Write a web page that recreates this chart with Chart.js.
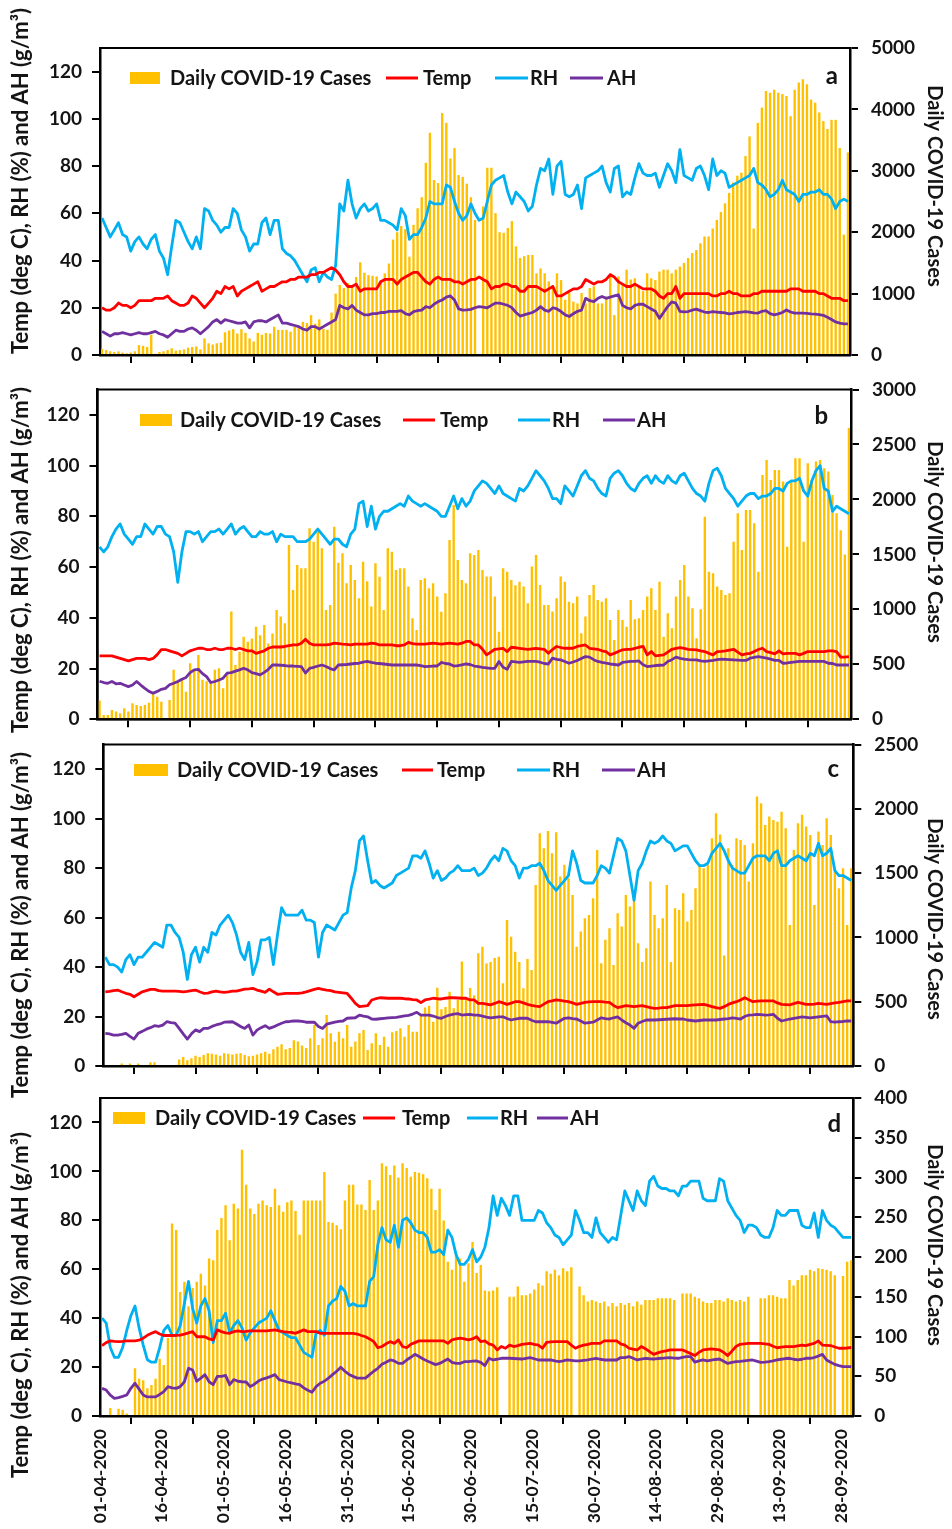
<!DOCTYPE html>
<html><head><meta charset="utf-8">
<script src="https://cdn.jsdelivr.net/npm/chart.js"></script>
<style>
html,body{margin:0;padding:0;background:#fff;}
body{width:952px;height:1529px;position:relative;overflow:hidden;}
canvas{position:absolute;left:0;top:0;}
</style></head><body>
<canvas id="ca" width="952" height="1529"></canvas>
<canvas id="cb" width="952" height="1529"></canvas>
<canvas id="cc" width="952" height="1529"></canvas>
<canvas id="cd" width="952" height="1529"></canvas>
<script>
// ---------- tick labels (x axis, one every 15 days from 01-04-2020) ----------
const dateTicks = ['01-04-2020','16-04-2020','01-05-2020','16-05-2020','31-05-2020','15-06-2020','30-06-2020','15-07-2020','30-07-2020','14-08-2020','29-08-2020','13-09-2020','28-09-2020'];
const tickDays = [0,15,30,45,60,75,90,105,120,135,150,165,180];
const seriesLabels = ['Daily COVID-19 Cases','Temp','RH','AH'];

// ---------- panel a ----------
const aCases = [
100,80,60,50,60,40,30,40,60,160,150,130,330,20,50,
60,80,110,70,80,90,120,130,140,90,270,190,170,190,200,
370,400,420,350,420,360,270,220,360,330,360,350,460,410,410,
410,380,460,460,540,520,650,510,580,430,410,690,1000,1140,1090,
1170,1120,1270,1510,1340,1300,1290,1280,1220,1330,1490,1880,2000,2100,2050,
1600,2120,2390,2570,3130,3620,2850,2800,3940,3780,3200,3370,2930,2900,2790,
2570,2200,0,2420,3050,3050,2310,2000,1990,2070,2180,1770,1580,1610,1630,
1630,1330,1410,1330,1200,1140,1330,1220,900,1010,870,840,1010,840,1090,
1120,840,840,950,1330,650,1280,1170,1390,1230,1250,1120,1040,1330,1250,
1220,1360,1390,1390,1330,1390,1440,1500,1580,1660,1710,1820,1930,1930,2060,
2200,2330,2470,2640,2810,2920,2970,3240,3560,2060,3780,4030,4300,4270,4320,
4270,4250,4220,3890,4320,4440,4490,4410,4160,4110,3950,3810,3680,3830,3830,
3370,1960,3300];
const aTemp = [
20,19,19,20,22,21,21,20,21,23,23,23,23,24,24,
24,25,23,22,21,21,22,25,24,22,20,22,24,27,26,
29,28,29,25,27,28,29,30,31,27,28,29,29,30,31,
31,32,32,33,33,33,34,34,35,35,36,37,36,34,31,
29,29,30,27,28,28,28,28,31,32,32,32,30,32,33,
34,35,35,33,31,30,32,33,32,32,32,31,31,30,31,
32,32,33,32,31,28,29,29,30,30,29,29,27,27,29,
29,29,28,27,28,29,25,25,26,27,28,28,29,32,31,
30,31,31,32,34,33,31,30,29,29,30,29,28,28,28,
27,25,24,26,26,29,24,26,26,26,26,26,26,26,25,
25,26,26,27,26,26,25,25,25,26,26,27,27,27,27,
27,27,27,28,28,28,27,27,27,27,26,26,25,24,24,
24,23,23];
const aRH = [
58,54,50,53,56,51,50,44,48,50,47,45,49,51,44,
41,34,46,57,56,52,48,45,50,45,62,61,57,55,52,
54,54,62,60,53,50,44,47,47,56,58,51,57,57,45,
43,42,40,37,34,31,36,37,31,35,33,32,38,64,61,
74,64,58,62,64,61,62,64,57,57,56,55,53,62,59,
49,51,51,54,58,65,64,64,64,72,71,65,60,57,59,
64,60,57,58,65,72,74,75,76,69,64,69,67,65,61,
63,72,79,78,83,68,80,82,68,67,68,72,62,75,76,
77,78,80,73,69,79,80,67,69,68,75,81,77,76,76,
77,71,76,81,78,73,87,76,75,74,79,80,76,70,83,
76,78,77,71,72,73,74,75,76,79,73,72,70,67,68,
70,74,70,69,68,65,68,68,69,69,70,68,68,66,62,
65,66,65];
const aAH = [
10,9,8,9,9,9.5,9,8.5,9,9.5,9,9,9.5,10,9,
8.5,7.5,9,10.5,10,10,11,11.5,10.5,9,10.5,12,14,15,13.5,
15,14.5,14,13.5,13.5,14,11.5,14,14.5,14.5,14,15,16,17,13.5,
13.5,13,12.5,12,11,10.5,12,12,11,12,13,14,15,21,20,
19.5,21,19,18,17,17,17.5,17.5,18,18,18.5,18.5,18.5,18.8,17.5,
17,18.4,18.8,19,20.5,20,21.5,22.6,23.3,24.5,25,23.3,19.5,19,19.1,
19.3,20,20.5,20.3,20,21,22,22,21.5,21,20,18,16.5,17,17.5,
18,19,20.5,19,18.5,20,19.5,18.4,17,16.3,17.5,18.5,19,24,23,
22.6,24,24.8,24,24.5,25,25.5,21,20,19.5,21,21.5,21.5,20.5,19.5,
18.5,15.5,18,20.5,22.5,22,18.5,18.3,18.4,19,19.4,18.8,18.2,18,18.4,
18.2,18,17.8,17.4,17.6,18,18.2,18.4,18.2,17.8,17.7,18.5,18.8,17.5,17,
17.4,18,19.1,18.2,17.7,17.7,17.7,17.6,17.4,17.3,17.1,16.8,16,15,14,
13.5,13.2,13.2];

// ---------- panel b ----------
const bCases = [
170,40,40,85,70,55,100,70,145,130,120,130,150,236,205,
160,0,175,450,345,370,250,510,450,585,360,345,345,450,465,
282,420,980,494,615,750,705,735,843,765,858,690,780,995,934,
873,1586,1176,1404,1373,1373,1737,1616,1707,1555,995,1040,1752,1425,1510,
1237,1404,1267,1100,1434,1255,1025,1419,1297,995,1555,1525,1358,1373,1373,
1207,919,812,1267,1282,1191,1237,1116,979,1146,1631,1950,1449,1267,1237,
1510,1495,1540,1358,1298,1298,1116,797,1373,1343,1267,1220,1252,1207,1055,
1389,1495,1222,1040,1040,980,1100,1298,1252,1070,1055,1116,783,934,1131,
1222,1085,1070,1100,904,722,994,904,843,1085,909,919,995,1116,1191,
995,1252,752,964,828,1116,1267,1404,1116,1010,737,1000,1843,1343,1328,
1207,1176,1131,1146,1616,1874,1540,1904,1904,1783,1343,2222,2359,2177,2268,
2268,2162,1570,2162,2374,2374,1616,2329,2177,2344,2359,2283,2253,2041,1874,
1720,1500,2650];
const bTemp = [
25,25,25,25,24.5,24,23.5,23,23.5,24,24,24,23.5,24,25.5,
27.5,27.5,27,26.5,26,25,26,27,27.5,28,28,27.5,27.5,28,27.5,
27.5,28,28,27.5,28,27.5,27,27,26,26.5,27,28,28.5,28.5,28.5,
28.7,29,29.3,29.3,30,31.6,30,29.3,29.3,29.3,29.3,29.5,30,29.8,29.6,
29.5,29.3,29.6,29.6,29.6,29.6,30,29.8,29.3,29.3,29.3,29.3,29,29,29.3,
30.3,29.8,29.6,29.6,29.6,29.8,30,29.8,29.6,29.8,30,29.8,29.6,30,30.7,
30.7,29.3,29.3,27.6,25.4,26.5,27.6,27.8,28,26.7,28.4,28.2,28,27.8,27.6,
27.8,28,27.8,27.6,26,27.5,28.7,28.3,28,28,28,28.7,29,29.3,28,
27.8,27.6,27,26.7,25.4,26,26.7,27.4,27.6,27.6,28,28.4,28.7,25.4,26.7,
25,25.2,25.4,26.5,27.6,28,28.3,28,27.6,27.5,27.4,27,26.7,26,25.4,
26.7,26.8,27,27.3,27.6,26.5,25.4,25.8,26,26.7,27.5,28,26.7,26.3,25.8,
27,25.8,26,26,26,25.4,26,26.7,26.7,26.7,26.7,26.7,27,27,26.7,
24.5,24.5,24.7];
const bRH = [
68,66,68,72,75,77,73,71,69,72,72,77,75,73,76,
76,73,72,66,54,66,74,74,73,74,70,72,74,74,75,
73,75,77,73,75,76,74,72,72,74,73,73,74,70,73,
72,72,72,70,70,70,71,73,75,73,71,69,71,71,69,
68,73,75,85,86,76,84,75,80,82,82,83,84,85,84,
88,86,85,84,85,84,83,82,80,80,84,88,83,87,84,
86,90,92,94,93,91,89,92,89,88,87,86,91,90,92,
95,98,96,94,91,87,87,85,92,90,88,92,96,98,95,
94,91,89,88,95,97,98,96,93,91,90,93,95,96,93,
96,94,93,96,94,93,96,97,94,91,89,88,86,93,98,
99,96,91,89,87,84,86,88,89,89,87,88,88,89,91,
91,90,93,94,94,95,90,88,94,98,100,91,90,82,84,
83,82,81];
const bAH = [
15,14.5,14.2,14.9,14,14.2,13.5,12.9,13.5,14.9,13.5,12.2,11,10.3,11,
11.8,12.2,13.6,14.2,14.9,15.8,16.5,18.4,19.5,19.7,18,16.8,14.5,14.9,15.5,
16.2,18.2,18.4,19,19.5,20.1,19.5,18.4,18,17.5,18.5,19.7,21.4,21.4,21.3,
21.2,21,21,20.9,20.8,18.2,20.1,20.5,21,21.4,20.8,20,19.5,21.4,21.5,
21.6,21.8,22,22.1,22.5,22.8,22.4,22.1,22,21.8,21.6,21.4,21.4,21.4,21.4,
21.4,21.4,21.4,21.2,20.8,20.9,21,21,22.4,22,21.8,21,21.2,21.5,21.8,
21.6,21,20.8,20.5,20.3,20.1,20.1,22.8,20.5,19.7,22.8,22.6,22.4,22.6,22.8,
22.8,22.8,22.5,22,21.8,24.1,23.6,23.4,22.8,22.1,22.6,23.2,24,24.7,24.5,
23.5,22.8,22.4,22.1,21.8,21.6,21.4,22.4,22.6,22.8,22.8,23,21.5,20.8,21,
21.2,21.3,21.4,22.8,23.5,24.5,24,23.7,23.5,23.4,23.4,23,22.8,23,23.2,
23.5,23.7,23.6,23.5,23.4,23.3,23.2,23.2,24.1,24.4,24.7,24.4,24.1,23.7,23.2,
23.2,22.1,22.2,22.4,22.6,22.8,22.8,22.8,22.8,22.8,22.8,22.8,22.1,22,21.4,
21.4,21.4,21.4];

// ---------- panel c ----------
const cCases = [
0,0,0,0,20,0,20,0,20,0,0,30,30,0,0,
0,0,0,50,70,45,60,80,70,85,100,95,90,80,100,
95,90,95,100,85,75,80,90,100,110,95,130,150,170,130,
140,200,190,160,140,215,318,163,215,397,254,189,267,215,319,
150,190,254,280,124,176,254,163,228,150,262,272,293,228,319,
267,267,397,454,469,345,609,441,459,578,449,513,812,529,607,
550,876,928,797,809,840,850,643,1136,1006,889,809,604,833,747,
1408,1810,1693,1828,1654,1818,1473,1564,1460,1330,928,1045,1149,1175,1305,
1680,799,981,1071,786,1188,1084,1330,1240,1359,954,809,915,1434,1175,
1071,1149,1408,809,1226,1214,1344,1123,1214,1382,1564,1537,1564,1771,1965,
1800,860,1693,1564,1771,1758,1719,1434,1732,2095,2043,1875,1940,1913,1900,
1978,1849,1097,1680,1888,1953,1862,1797,1252,1823,1719,1926,1797,1512,1382,
1537,1097,1537];
const cTemp = [
30,30.2,30.5,30.7,30,29.4,29,28,29,30,30.5,31,31,30.5,30.3,
30.3,30.3,30.3,30.2,30,30.2,30.5,30.7,30,29.4,29.5,30,30.3,30,29.8,
30,30.3,30.3,30.7,31.1,31.2,31.4,30.7,30.3,29.8,31.1,30,29,29.2,29.4,
29.4,29.4,29.4,29.6,30,30.5,31,31.4,31,30.7,30.5,30,29.8,29.6,29.4,
27.4,25.3,24,24.2,24.4,26.7,27.2,27.6,27.5,27.4,27.4,27.4,27.4,27.2,27.1,
26.8,26.7,25.6,26.7,27,27.4,27.2,27.1,27.4,27.6,27.6,27.5,27.4,27.4,26.7,
26.7,25.3,25.3,25,24.7,25.3,26,25.5,24.9,25.4,26,26,25.5,24.9,24.5,
24.2,24,25,26,26.3,26.7,26.5,26.2,26,25.5,24.9,25.3,25.7,25.9,26,
26,26,25.8,25.7,24.5,23.6,24,24.4,24.2,24,24.2,24.4,24,23.6,23.3,
23.4,23.6,23.6,24,24.4,24.4,24.4,24.4,24.6,24.7,24.8,24.9,24.5,24,23.6,
23.3,24,24.9,25.5,26,26.7,27.6,26.8,26,26.2,26.3,26.3,26.3,26.3,25.5,
24.9,24.8,24.7,25.2,25.7,25.3,24.9,24.9,25,25.3,25.1,24.9,25.2,25.5,25.7,
26,26.3,26.3];
const cRH = [
44,41,41,40,38,43,45,41,44,44,46,48,50,49,48,
57,57,54,52,46,35,45,48,42,48,46,54,53,57,59,
61,58,53,46,43,50,37,42,51,51,52,41,53,64,61,
61,61,61,63,59,59,58,44,54,57,56,55,58,61,62,
72,79,91,93,83,74,75,73,72,73,74,77,78,79,80,
85,85,84,87,82,76,79,75,76,78,79,81,79,79,79,
80,77,78,80,83,85,83,88,87,83,81,76,80,80,81,
81,82,79,75,73,71,73,75,77,87,82,75,74,74,74,
77,81,80,78,85,92,91,87,77,67,79,82,87,91,90,
91,93,91,90,87,88,89,89,86,83,81,81,82,86,88,
90,87,83,80,79,78,78,81,84,85,85,85,83,86,87,
81,81,83,84,85,84,83,86,85,90,85,86,88,79,77,
77,76,75];
const cAH = [
13.2,13,12.5,12.5,12.8,13.2,12,10.9,13.2,14,14.9,15.5,16.3,16,16.5,
17.9,17.5,17.3,15.2,13,10.9,13,14.6,13.9,15.2,15.2,16,16.6,17,17.7,
17.8,17.9,17,16,15.2,16.6,12.5,14.5,15.5,16.3,15.2,15.8,16.6,17.3,17.9,
18,18.2,18.2,18,17.7,17.7,17.7,16,15.2,16.9,17.3,17.7,18,18.2,19.3,
19.4,19.5,20.6,20.2,19.9,19,18.9,19.1,19.3,19.5,19.6,19.7,20,20.3,20.5,
21,21.7,20.6,20.6,20.6,20.2,19.6,19.3,20,20.6,21,21.2,20.6,20.8,20.9,
20.6,20.6,20.2,19.8,19.5,19.7,19.9,19.9,19.2,18.6,19,19.3,19.3,19.3,18.5,
17.9,17.9,17.9,17.9,17.6,17.3,18.3,19.3,19.5,19.2,19,18.2,17.3,17.5,17.7,
18.6,19.5,19.2,19,19.5,19.9,18.6,17.5,16.6,15.2,17.3,18,18.6,18.6,18.6,
18.7,18.8,18.9,19,19.1,19,19,18.6,18.4,18.2,18.4,18.6,18.6,18.6,18.6,
18.8,19,19.2,19.5,19.3,19,20,20.6,20.7,20.9,20.8,20.6,20.7,20.9,19.3,
18.2,18.6,19,19.3,19.6,19.9,19.7,19.5,19.7,19.9,20.1,20.3,17.9,17.7,17.9,
18,18.2,18.2];

// ---------- panel d ----------
const dCases = [
0,1,10,0,9,8,3,0,60,47,45,35,39,47,72,
64,98,242,234,156,169,138,161,169,179,164,198,196,234,249,
265,221,267,261,335,291,261,254,267,271,265,263,286,265,257,
269,271,258,228,271,271,271,271,271,307,244,243,240,235,271,
291,291,266,266,259,297,259,271,318,314,303,315,300,318,312,
301,307,306,304,299,286,259,286,246,194,184,203,198,169,192,
219,180,190,158,157,158,162,0,0,150,150,163,152,152,154,
159,167,164,182,179,184,177,186,182,187,0,163,152,144,146,
144,142,144,138,142,138,142,140,142,138,144,140,146,146,146,
148,148,148,148,146,0,154,154,154,150,148,144,142,142,146,
146,144,148,146,144,146,144,150,0,0,148,148,152,152,150,
148,148,171,164,171,177,177,184,182,186,185,184,182,177,0,
176,194,196];
const dTemp = [
28.8,30,30.7,30.5,30.4,30.5,30.7,30.7,30.7,31,31.8,33,33.8,34.5,33.5,
32.9,32.9,32.9,33,33.1,33.5,34,34.5,32.4,32.4,32.4,31.5,31.1,35.2,34.5,
34,33.8,34.5,34.8,34.5,34.6,34.8,34.8,34.8,34.8,34.8,35,35.2,34.8,34.5,
34.3,34.2,33.8,34.5,35.2,34.5,34.5,34.5,33.8,33.8,33.8,33.8,33.8,33.8,33.8,
33.8,33.8,33.5,32.9,32.4,31.5,30.4,27.9,28.4,29.5,30.4,29.7,31.1,28.4,27.9,
29.3,30,30.7,30.7,30.7,30.7,30.7,30.7,30.7,29.7,31.1,31.5,31.8,31.5,31.1,
31.5,32.4,30.4,30.7,29.5,29,27,28.4,27.7,29,28.4,28.8,29.3,29.5,29.7,
29.3,29,27.7,30.1,30.3,30.4,30.4,30.4,30.4,29,27.7,28.5,29,29.3,29.7,
29.7,29.7,30.7,30.7,30.7,30.7,29.5,29,27.7,27.3,27,28.4,27.5,26.3,25.2,
25.8,26.3,26.6,27,27,27,27,26.3,25.5,24.7,26,27,27.2,27.4,27.2,
27,26,24.7,26.5,28.4,29.3,29.5,29.7,29.7,29.7,29.7,29.5,29.3,28.5,27.9,
28.2,28.4,28.4,28.4,28.7,29,28.8,29.3,29.7,30.7,29,28.9,28.8,28.2,27.7,
27.7,27.8,28];
const dRH = [
40,38,28,24,24,28,35,41,45,36,29,23,22,22,28,
35,37,33,33,37,46,55,44,38,45,48,43,30,39,39,
42,34,37,39,36,31,34,36,38,39,40,43,39,35,34,
33,32,32,29,26,25,24,34,35,33,45,47,48,53,51,
45,46,45,45,45,55,57,70,77,72,71,78,69,80,81,
79,76,75,75,73,67,67,68,66,76,73,66,62,62,64,
68,63,65,69,77,90,82,89,86,82,90,90,80,80,80,
80,84,83,79,77,74,73,70,72,74,84,80,75,75,73,
81,75,73,71,73,72,82,92,88,84,92,88,86,96,98,
94,93,93,92,92,90,94,94,96,96,96,89,88,88,88,
97,96,88,85,82,80,75,78,78,77,74,73,73,77,84,
82,82,84,84,84,78,77,77,83,73,84,80,78,77,75,
73,73,73];
const dAH = [
11.3,10.6,8.5,7.2,7.5,8,8.6,11.3,13.4,11,8.6,7.8,7.8,7.8,8.8,
10,12,11.5,11.3,12,14,19.5,18.8,14.2,15.5,16.9,14,12.8,16.2,16.2,
16.6,12.8,14.9,14.2,14,13.9,12,13,14.3,15.1,15.6,16.2,16.9,14.9,14.4,
13.9,13.5,13.1,12.8,11.5,10.5,9.7,12,13.4,14.2,15.5,16.9,18.3,19.9,18.3,
17,16.2,15.5,15.5,15.5,16.9,18.3,19.5,21.2,22,22.9,22.5,21.5,21.5,22.9,
24,25.2,24.3,23.3,22.5,21.8,21,21.5,22.4,23.3,21.9,21.5,21.5,22.2,22.2,
22.4,22.5,21.9,20.6,23.6,22.9,23.2,23.6,23.6,23.6,23.5,23.4,23.3,23.6,23.9,
23.4,22.9,22.9,22.9,22.9,22.5,22.2,22.5,22.9,22.7,22.5,22.5,22.7,22.9,23.3,
23.6,23.2,22.9,22.9,22.9,22.9,23.9,23.9,24.3,23.6,22.9,23.3,23.6,23.4,23.3,
23.5,23.6,23.8,23.9,23.7,23.6,24,24.3,24.3,22,22.5,22.9,22.5,22.8,23.1,
23.3,22.4,21.5,21.9,22.2,22.3,22.5,22.7,22.9,22.4,21.9,22,22.2,22.5,22.9,
23.2,23.5,23.6,23.2,22.9,23.2,23.6,23.6,23.9,24.5,25.2,22.9,22,21.1,20.6,
20.2,20.2,20.2];

// ---------- drawing ----------
const PAGE_W = 952, PAGE_H = 1529;
const FONT = 'Lato, "Open Sans", "DejaVu Sans", sans-serif';
const INK = '#141414';
const LEFT_TITLE = 'Temp (deg C), RH (%) and AH (g/m\u00B3)';
const RIGHT_TITLE = 'Daily COVID-19 Cases';
const COLORS = {bar:'#FFC000', temp:'#FF0000', rh:'#00B0F0', ah:'#7030A0'};

function check(name, arr){ if (arr.length !== 183) throw new Error(name + ' has ' + arr.length + ' values'); }

const decor = {
  id: 'decor',
  afterDatasetsDraw(chart, args, o) {
    const ctx = chart.ctx, ca = chart.chartArea;
    ctx.save();
    ctx.strokeStyle = '#000'; ctx.lineWidth = 2;
    ctx.strokeRect(ca.left, ca.top, ca.right - ca.left, ca.bottom - ca.top);
    ctx.font = 'bold 20px ' + FONT; ctx.textBaseline = 'middle'; ctx.textAlign = 'left';
    chart.data.datasets.forEach((ds, i) => {
      const it = o.items[i];
      if (ds.type === 'bar') {
        ctx.fillStyle = ds.backgroundColor; ctx.fillRect(it.m, o.ly - 6, it.w, 12);
      } else {
        ctx.strokeStyle = ds.borderColor; ctx.lineWidth = 3;
        ctx.beginPath(); ctx.moveTo(it.m, o.ly); ctx.lineTo(it.m + it.w, o.ly); ctx.stroke();
      }
      ctx.fillStyle = INK; ctx.fillText(ds.label, it.t, o.ly + 1);
    });
    ctx.font = 'bold 24px ' + FONT; ctx.textAlign = 'right'; ctx.fillStyle = INK;
    ctx.fillText(o.letter, o.letterX, o.letterY);
    ctx.textAlign = 'center';
    ctx.font = 'bold 22px ' + FONT;
    ctx.save(); ctx.translate(o.lx, o.lty); ctx.rotate(-Math.PI / 2); ctx.fillText(LEFT_TITLE, 0, 0); ctx.restore();
    ctx.font = 'bold 20px ' + FONT;
    ctx.save(); ctx.translate(o.rx, o.rty); ctx.rotate(Math.PI / 2); ctx.fillText(RIGHT_TITLE, 0, 0); ctx.restore();
    ctx.restore();
  }
};

function axisGrid(){ return {drawOnChartArea:false, drawTicks:true, tickLength:8, color:'#000', lineWidth:2}; }
function axisBorder(){ return {display:true, color:'#000', width:2.5}; }
function tickFont(size){ return {family:FONT, size:size, weight:'bold'}; }

function buildPanel(id, cases, temp, rh, ah, g) {
  check(id+' cases', cases); check(id+' temp', temp); check(id+' rh', rh); check(id+' ah', ah);
  const pts = arr => arr.map((v, i) => ({x: i + 0.5, y: v}));
  const line = (label, arr, color) => ({type:'line', label, data:pts(arr), yAxisID:'y', borderColor:color, backgroundColor:color,
    borderWidth:2.8, pointRadius:0, tension:0, borderJoinStyle:'round', order:1});
  new Chart(document.getElementById(id), {
    type: 'bar',
    data: {datasets: [
      {type:'bar', label:seriesLabels[0], data:pts(cases), yAxisID:'y1', backgroundColor:COLORS.bar,
       barPercentage:0.58, categoryPercentage:1, order:2},
      line(seriesLabels[1], temp, COLORS.temp),
      line(seriesLabels[2], rh, COLORS.rh),
      line(seriesLabels[3], ah, COLORS.ah)
    ]},
    options: {
      responsive:false, animation:false, events:[],
      layout:{padding:{top:g.top, bottom:PAGE_H - g.bottom - g.xh, left:0, right:0}},
      plugins:{legend:{display:false}, tooltip:{enabled:false}, decor:g.decor},
      scales: {
        x: {type:'linear', min:0, max:183, offset:false,
            afterBuildTicks: s => { s.ticks = tickDays.map(v => ({value:v})); },
            afterFit: s => { s.height = g.xh; },
            grid: axisGrid(), border: axisBorder(),
            ticks: {display:g.xLabels, autoSkip:false, minRotation:90, maxRotation:90, padding:5, color:INK,
                    font:tickFont(17.5), callback: v => dateTicks[tickDays.indexOf(v)]}},
        y: {type:'linear', position:'left', min:0, max:130,
            afterFit: s => { s.width = g.left; },
            grid: axisGrid(), border: axisBorder(),
            ticks: {stepSize:20, includeBounds:false, padding:10, color:INK, font:tickFont(19), callback: v => String(v)}},
        y1: {type:'linear', position:'right', min:0, max:g.rmax,
            afterFit: s => { s.width = PAGE_W - g.right; },
            grid: axisGrid(), border: axisBorder(),
            ticks: {stepSize:g.rstep, includeBounds:false, padding:13, color:INK, font:tickFont(19), callback: v => String(v)}}
      }
    },
    plugins: [decor]
  });
}

buildPanel('ca', aCases, aTemp, aRH, aAH, {top:48, bottom:355, left:100, right:850, xh:18, xLabels:false, rmax:5000, rstep:1000,
  decor:{ly:78, items:[{m:130,w:30,t:170},{m:386,w:32,t:423},{m:495,w:33,t:530},{m:570,w:33,t:607}],
         letter:'a', letterX:838, letterY:76, lx:21, lty:181, rx:934, rty:186}});
buildPanel('cb', bCases, bTemp, bRH, bAH, {top:389.5, bottom:719.3, left:97.5, right:851, xh:18, xLabels:false, rmax:3000, rstep:500,
  decor:{ly:420, items:[{m:140,w:32,t:180},{m:403,w:32,t:440},{m:518,w:32,t:552},{m:603,w:32,t:637}],
         letter:'b', letterX:828, letterY:416, lx:21, lty:560, rx:934, rty:542}});
buildPanel('cc', cCases, cTemp, cRH, cAH, {top:744.5, bottom:1066, left:103.3, right:853.3, xh:18, xLabels:false, rmax:2500, rstep:500,
  decor:{ly:770, items:[{m:134,w:34,t:177},{m:402,w:31,t:437},{m:517,w:33,t:552},{m:602,w:33,t:637}],
         letter:'c', letterX:839, letterY:769, lx:21, lty:925, rx:934, rty:919}});
buildPanel('cd', dCases, dTemp, dRH, dAH, {top:1098, bottom:1416, left:100, right:853.3, xh:113, xLabels:true, rmax:400, rstep:50,
  decor:{ly:1118, items:[{m:113,w:32,t:155},{m:363,w:32,t:402},{m:467,w:31,t:500},{m:537,w:31,t:570}],
         letter:'d', letterX:841, letterY:1124, lx:21, lty:1305, rx:934, rty:1245}});
</script>
</body></html>
